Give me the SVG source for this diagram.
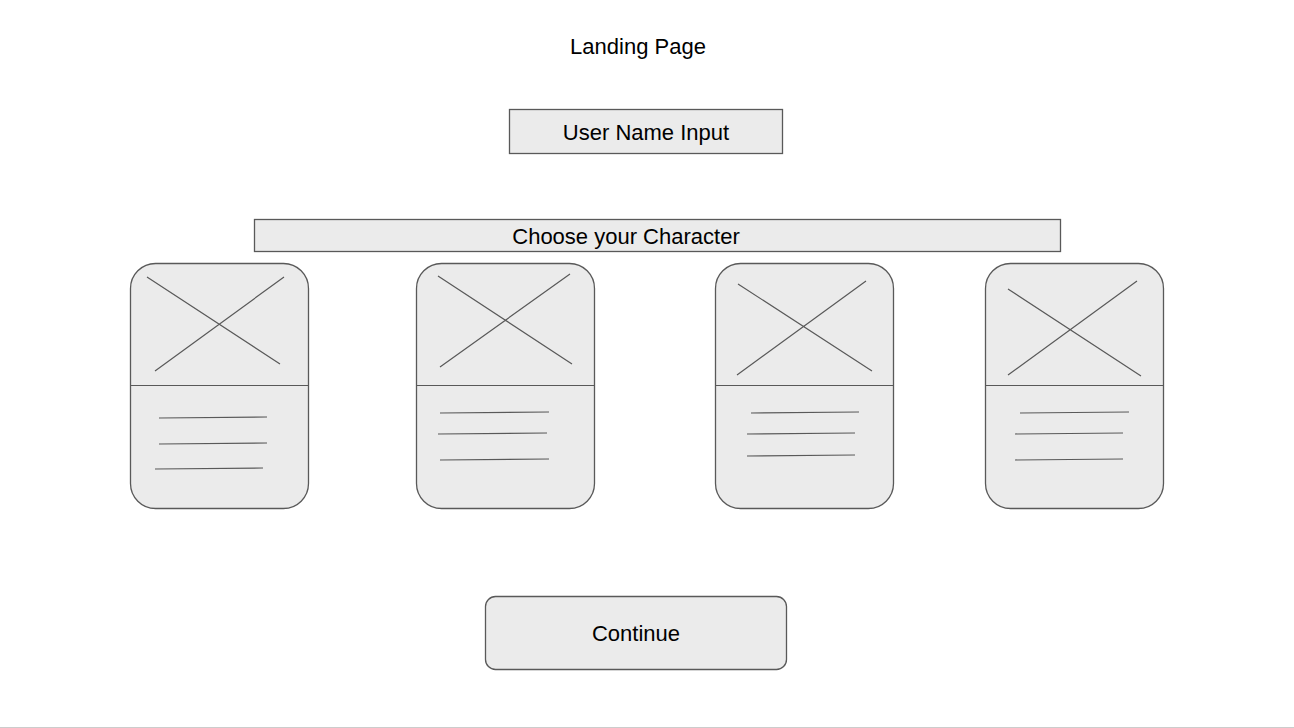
<svg xmlns="http://www.w3.org/2000/svg" width="1294" height="728" viewBox="0 0 1294 728">
<style>
.b{fill:#ebebeb;stroke:#595959;stroke-width:1.3}
.l{stroke:#595959;stroke-width:1.2;fill:none}
text{font-family:"Liberation Sans",Arial,sans-serif;fill:#000;text-anchor:middle}
</style>
<rect width="1294" height="728" fill="#fff"/>
<line x1="0" y1="727.5" x2="1294" y2="727.5" stroke="#ccc"/>
<g id="title"><text x="638" y="54" font-size="22">Landing Page</text></g>
<g id="username"><rect class="b" x="509.5" y="109.5" width="273" height="44"/><text x="646" y="140" font-size="22">User Name Input</text></g>
<g id="choose"><rect class="b" x="254.5" y="219.5" width="806" height="32"/><text x="626" y="244" font-size="22">Choose your Character</text></g>
<g id="card1"><rect class="b" x="130.5" y="263.5" width="178" height="245" rx="25"/><line class="l" x1="130.5" y1="385.5" x2="308.5" y2="385.5"/>
<path class="l" d="M147 277L280 364M284 277L155 371M159 418L267 417M159 444L267 443M155 469L263 468"/></g>
<g id="card2"><rect class="b" x="416.5" y="263.5" width="178" height="245" rx="25"/><line class="l" x1="416.5" y1="385.5" x2="594.5" y2="385.5"/>
<path class="l" d="M438 276L572 364M570 274L440 367M440 413L549 412M438 434L547 433M440 460L549 459"/></g>
<g id="card3"><rect class="b" x="715.5" y="263.5" width="178" height="245" rx="25"/><line class="l" x1="715.5" y1="385.5" x2="893.5" y2="385.5"/>
<path class="l" d="M738 284L872 371M866 281L737 375M751 413L859 412M747 434L855 433M747 456L855 455"/></g>
<g id="card4"><rect class="b" x="985.5" y="263.5" width="178" height="245" rx="25"/><line class="l" x1="985.5" y1="385.5" x2="1163.5" y2="385.5"/>
<path class="l" d="M1008 289L1141 376M1137 281L1008 375M1020 413L1129 412M1015 434L1123 433M1015 460L1123 459"/></g>
<g id="continue"><rect class="b" x="485.5" y="596.5" width="301" height="73" rx="10"/><text x="636" y="641" font-size="22">Continue</text></g>
<g id="connectors"></g>
</svg>
